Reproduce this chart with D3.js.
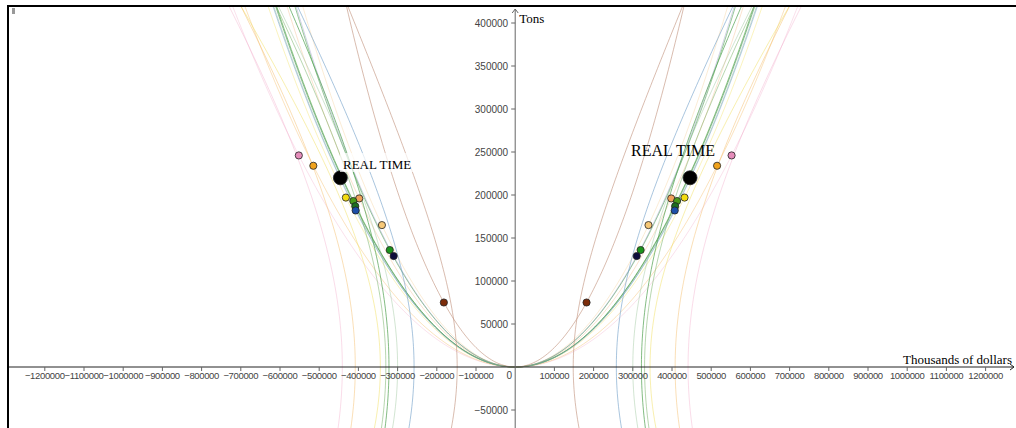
<!DOCTYPE html>
<html>
<head>
<meta charset="utf-8">
<script src="https://cdn.jsdelivr.net/npm/d3@7"></script>
<style>
  body { margin: 0; background: #fff; }
  .tick-label { font-family: "Liberation Sans", Arial, sans-serif; font-size: 10px; fill: #444; }
  .x-tick-label { font-size: 9.5px; letter-spacing: -0.35px; }
  .serif { font-family: "Liberation Serif", "Times New Roman", serif; fill: #000; }
</style>
</head>
<body>
<div id="chart"></div>
<script>
// Points (right half; the left half is the mirror image)
var pointNames = ["pink", "orange", "realtime", "yellow", "peach", "green", "darkgreen", "blue", "tan", "green2", "navy", "brown"];
var pointX = [552000, 515000, 446000, 432000, 398000, 413000, 408000, 407000, 340000, 320000, 310000, 182000];
var pointY = [246000, 234000, 220000, 197000, 196000, 193000, 187000, 182000, 165000, 136000, 129000, 75000];
var pointColor = ["#e58cba", "#f0a21c", "#000000", "#f2dc10", "#f0a25a", "#4a9a1a", "#1f6f1f", "#1d4fa8", "#f6c878", "#1c941c", "#0c0c3c", "#7c2c0a"];
var curveColor = ["#f2a8c8", "#f4b860", "#9bbf9b", "#f2e060", "#f4b888", "#5fae4f", "#4f9a5f", "#6f9fc8", "#f6cf98", "#5fae5f", "#8f8fbf", "#c0907a"];
var curveOpacity = [0.35, 0.4, 0.5, 0.4, 0.4, 0.7, 0.65, 0.5, 0.4, 0.65, 0.4, 0.6];

var hypA = [148000, 258000, 300000, 322000, 330000, 344000, 408000, 441000];
var hypB = [155000, 220000, 240000, 282000, 270000, 237000, 301000, 318000];
var hypColor = ["#c0907a", "#6f9fc8", "#8fbf8f", "#4f9f4f", "#6fae5f", "#f2e060", "#f4b860", "#f2a8c8"];
var hypOpacity = [0.6, 0.6, 0.4, 0.7, 0.5, 0.5, 0.45, 0.4];

// Ticks
var xTicks = d3.range(-1200000, 1200001, 100000).filter(d => d !== 0);
var yTicks = [-50000, 50000, 100000, 150000, 200000, 250000, 300000, 350000, 400000];

var width = 1016, height = 428;
var originX = 515.2, originY = 367;

var svg = d3.select("#chart").append("svg")
    .attr("width", width)
    .attr("height", height);

var xScale = d3.scaleLinear()
    .domain([-1200000, 1200000])
    .range([originX - 470.4, originX + 470.4]);
var yScale = d3.scaleLinear()
    .domain([0, 400000])
    .range([originY, originY - 344]);

svg.append("clipPath").attr("id", "plotClip")
  .append("rect")
    .attr("x", 9).attr("y", 7)
    .attr("width", width - 9).attr("height", height - 7);

var curvesG = svg.append("g").attr("clip-path", "url(#plotClip)");

var line = d3.line()
    .x(d => xScale(d[0]))
    .y(d => yScale(d[1]));

var yMax = yScale.invert(0);
var yMin = yScale.invert(height);

// Parabolas y = c x^2 through each point, both sides
pointX.forEach(function(px, i) {
    var c = pointY[i] / (px * px);
    var xEnd = Math.sqrt(yMax / c);
    [1, -1].forEach(function(s) {
        var pts = d3.range(0, 1.0001, 0.01).map(t => [s * t * xEnd, c * (t * xEnd) * (t * xEnd)]);
        curvesG.append("path")
            .attr("d", line(pts))
            .attr("fill", "none")
            .attr("stroke", curveColor[i])
            .attr("stroke-opacity", curveOpacity[i])
            .attr("stroke-width", 1);
    });
});

// Hyperbolas, both sides
hypA.forEach(function(a, i) {
    var b = hypB[i];
    [1, -1].forEach(function(s) {
        var pts = d3.range(0, 1.0001, 0.01).map(function(t) {
            var y = yMin + t * (yMax - yMin);
            return [s * a * Math.sqrt(1 + (y / b) * (y / b)), y];
        });
        curvesG.append("path")
            .attr("d", line(pts))
            .attr("fill", "none")
            .attr("stroke", hypColor[i])
            .attr("stroke-opacity", hypOpacity[i])
            .attr("stroke-width", 1);
    });
});

// Axes
svg.append("line")
    .attr("x1", 9).attr("x2", width - 2)
    .attr("y1", originY).attr("y2", originY)
    .attr("stroke", "#222").attr("stroke-width", 1);
svg.append("path")
    .attr("d", "M" + (width - 6) + "," + (originY - 3) + "L" + (width - 2) + "," + originY + "L" + (width - 6) + "," + (originY + 3))
    .attr("fill", "none").attr("stroke", "#222");
svg.append("line")
    .attr("x1", originX).attr("x2", originX)
    .attr("y1", 9).attr("y2", height)
    .attr("stroke", "#666").attr("stroke-width", 1);
svg.append("path")
    .attr("d", "M" + (originX - 3) + ",13L" + originX + ",9L" + (originX + 3) + ",13")
    .attr("fill", "none").attr("stroke", "#666");

var xTickG = svg.append("g");
xTickG.selectAll("line").data(xTicks).enter().append("line")
    .attr("x1", d => xScale(d)).attr("x2", d => xScale(d))
    .attr("y1", originY).attr("y2", originY + 4)
    .attr("stroke", "#666");
xTickG.selectAll("text").data(xTicks).enter().append("text")
    .attr("class", "tick-label x-tick-label")
    .attr("x", d => xScale(d))
    .attr("y", originY + 12)
    .attr("text-anchor", "middle")
    .text(d => d < 0 ? "\u2212" + Math.abs(d) : d);
svg.append("text")
    .attr("class", "tick-label")
    .attr("x", originX - 6).attr("y", originY + 12)
    .attr("text-anchor", "middle")
    .text("0");

var yTickG = svg.append("g");
yTickG.selectAll("line").data(yTicks).enter().append("line")
    .attr("x1", originX - 4).attr("x2", originX)
    .attr("y1", d => yScale(d)).attr("y2", d => yScale(d))
    .attr("stroke", "#666");
yTickG.selectAll("text").data(yTicks).enter().append("text")
    .attr("class", "tick-label")
    .attr("x", originX - 7)
    .attr("y", d => yScale(d) + 3.5)
    .attr("text-anchor", "end")
    .text(d => d < 0 ? "\u2212" + Math.abs(d) : d);

svg.append("text").attr("class", "serif")
    .attr("x", originX + 4).attr("y", 23)
    .style("font-size", "13px")
    .text("Tons");
svg.append("text").attr("class", "serif")
    .attr("x", width - 4).attr("y", originY - 3)
    .attr("text-anchor", "end")
    .style("font-size", "13px")
    .text("Thousands of dollars");

// Points, both sides
var allPts = [];
pointX.forEach(function(px, i) {
    allPts.push({x: px, y: pointY[i], i: i});
    allPts.push({x: -px, y: pointY[i], i: i});
});
svg.append("g").selectAll("circle").data(allPts).enter().append("circle")
    .attr("cx", d => xScale(d.x))
    .attr("cy", d => yScale(d.y))
    .attr("r", d => pointNames[d.i] === "realtime" ? 7 : 3.6)
    .attr("fill", d => pointColor[d.i])
    .attr("stroke", "#222")
    .attr("stroke-width", 0.8);

// REAL TIME labels
svg.append("rect")
    .attr("x", 340).attr("y", 153).attr("width", 88).attr("height", 19)
    .attr("fill", "#fff").attr("fill-opacity", 0.7);
svg.append("text").attr("class", "serif")
    .attr("x", 343).attr("y", 169)
    .style("font-size", "13px")
    .text("REAL TIME");
svg.append("text").attr("class", "serif")
    .attr("x", 631).attr("y", 156)
    .style("font-size", "16px")
    .text("REAL TIME");

// Frame of the graphics view
svg.append("line")
    .attr("x1", 8).attr("x2", 8).attr("y1", 5).attr("y2", height)
    .attr("stroke", "#000").attr("stroke-width", 2);
svg.append("line")
    .attr("x1", 7).attr("x2", width).attr("y1", 6).attr("y2", 6)
    .attr("stroke", "#000").attr("stroke-width", 2);
svg.append("rect")
    .attr("x", 12).attr("y", 8).attr("width", 3).attr("height", 6)
    .attr("fill", "#999");
</script>
</body>
</html>
